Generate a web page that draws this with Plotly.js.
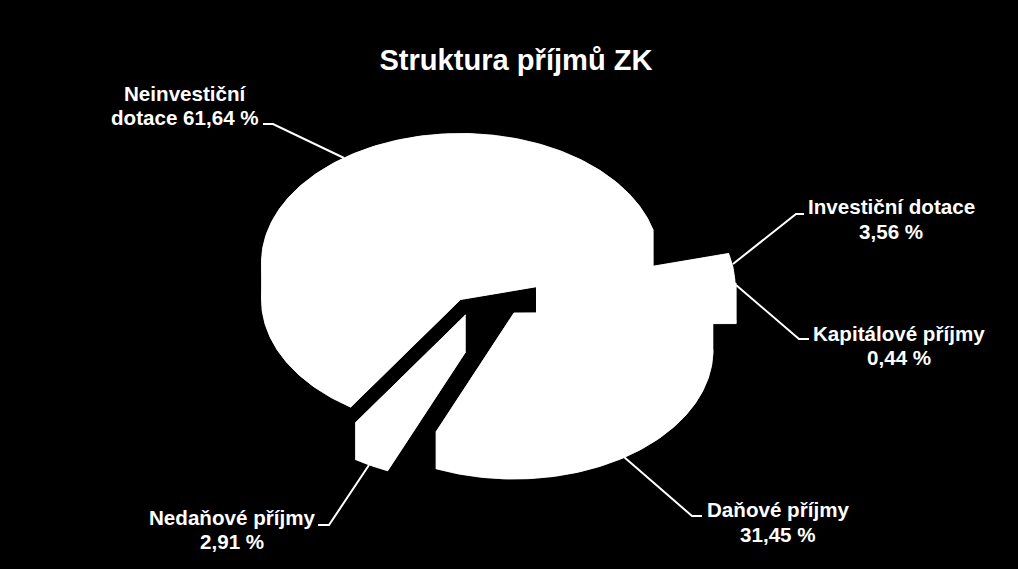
<!DOCTYPE html>
<html>
<head>
<meta charset="utf-8">
<script src="https://cdn.plot.ly/plotly-3.0.1.min.js"></script>
<style>html,body{margin:0;padding:0;background:#000;overflow:hidden}</style>
</head>
<body>
<div id="chart" style="width:1018px;height:569px"></div>
<script>
// ---- data ----
const chartTitle = "Struktura příjmů ZK";
const categories = ["Neinvestiční dotace", "Investiční dotace", "Kapitálové příjmy", "Daňové příjmy", "Nedaňové příjmy"];
const shares = [61.64, 3.56, 0.44, 31.45, 2.91];
const labelTexts = ["Neinvestiční<br>dotace 61,64 %", "Investiční dotace<br>3,56 %", "Kapitálové příjmy<br>0,44 %", "Daňové příjmy<br>31,45 %", "Nedaňové příjmy<br>2,91 %"];

// ---- drawing geometry (perspective of the exploded 3-D pie) ----
const rx = 199, ry = 129, depth = 37, startDeg = 236.5;
const centreX = [460.5, 536, 537, 514, 465.5];
const centreY = [262.5, 286, 287, 313, 315];
const labelX = [185, 891, 899, 777.5, 232];
const labelY = [105.5, 219, 345.5, 522, 529.5];
const lineGap = 24.5;
const leaderX = [[263, 273, 344], [804, 796, 733], [809, 799, 736], [702, 692, 624], [318, 329, 369]];
const leaderY = [[124, 124, 158], [214, 214, 264], [339, 339, 285], [516, 516, 457], [525, 525, 465]];

const total = shares.reduce((a, b) => a + b, 0);
const traces = [];
function face(name, xs, ys) {
  traces.push({type: "scatter", mode: "lines", name, x: xs, y: ys, fill: "toself", fillcolor: "#ffffff",
    line: {color: "#ffffff", width: 0.6}, hoverinfo: "name", showlegend: false});
}
let angle = startDeg;
categories.forEach((name, i) => {
  const sweep = shares[i] / total * 360;
  const n = Math.max(3, Math.ceil(sweep));
  const cx = centreX[i], cy = centreY[i];
  const ax = [], ay = [];
  for (let k = 0; k <= n; k++) {
    const t = (angle - sweep * k / n) * Math.PI / 180;
    ax.push(cx + rx * Math.cos(t));
    ay.push(cy - ry * Math.sin(t));
  }
  const down = v => v + depth;
  // top face and bottom face
  face(name, [cx, ...ax, cx], [cy, ...ay, cy]);
  face(name, [cx, ...ax, cx], [cy, ...ay, cy].map(down));
  // outer wall, split wherever the arc turns back in x so each band stays a simple polygon
  let from = 0;
  for (let k = 1; k <= n; k++) {
    const turns = k < n && (ax[k] - ax[k - 1]) * (ax[k + 1] - ax[k]) < 0;
    if (turns || k === n) {
      const sx = ax.slice(from, k + 1), sy = ay.slice(from, k + 1);
      face(name, [...sx, ...sx.slice().reverse()], [...sy, ...sy.slice().reverse().map(down)]);
      from = k;
    }
  }
  // two cut walls
  face(name, [cx, ax[0], ax[0], cx], [cy, ay[0], ay[0] + depth, cy + depth]);
  face(name, [cx, ax[n], ax[n], cx], [cy, ay[n], ay[n] + depth, cy + depth]);
  angle -= sweep;
});
categories.forEach((name, i) => {
  traces.push({type: "scatter", mode: "lines", name: name + " popisek", x: leaderX[i], y: leaderY[i],
    line: {color: "#ffffff", width: 2}, hoverinfo: "skip", showlegend: false});
});

const labelFont = {family: "Liberation Sans, Arial, sans-serif", size: 20.6, color: "#ffffff", weight: 700};
const annotations = [];
labelTexts.forEach((t, i) => {
  t.split("<br>").forEach((line, j) => {
    annotations.push({
      text: line, x: labelX[i], y: labelY[i] + (j - 0.5) * lineGap, xref: "x", yref: "y", showarrow: false,
      xanchor: "center", yanchor: "middle", align: "center", font: labelFont
    });
  });
});

const layout = {
  width: 1018, height: 569,
  margin: {l: 0, r: 0, t: 0, b: 0},
  paper_bgcolor: "#000000", plot_bgcolor: "#000000",
  showlegend: false,
  title: {text: "<b>" + chartTitle + "</b>", x: 516 / 1018, xanchor: "center", y: 1 - 60 / 569, yanchor: "middle",
    font: {family: "Liberation Sans, Arial, sans-serif", size: 29.1, color: "#ffffff"}},
  xaxis: {range: [0, 1018], visible: false, fixedrange: true},
  yaxis: {range: [569, 0], visible: false, fixedrange: true},
  annotations
};
Plotly.newPlot("chart", traces, layout, {displayModeBar: false, responsive: false});
</script>
</body>
</html>
